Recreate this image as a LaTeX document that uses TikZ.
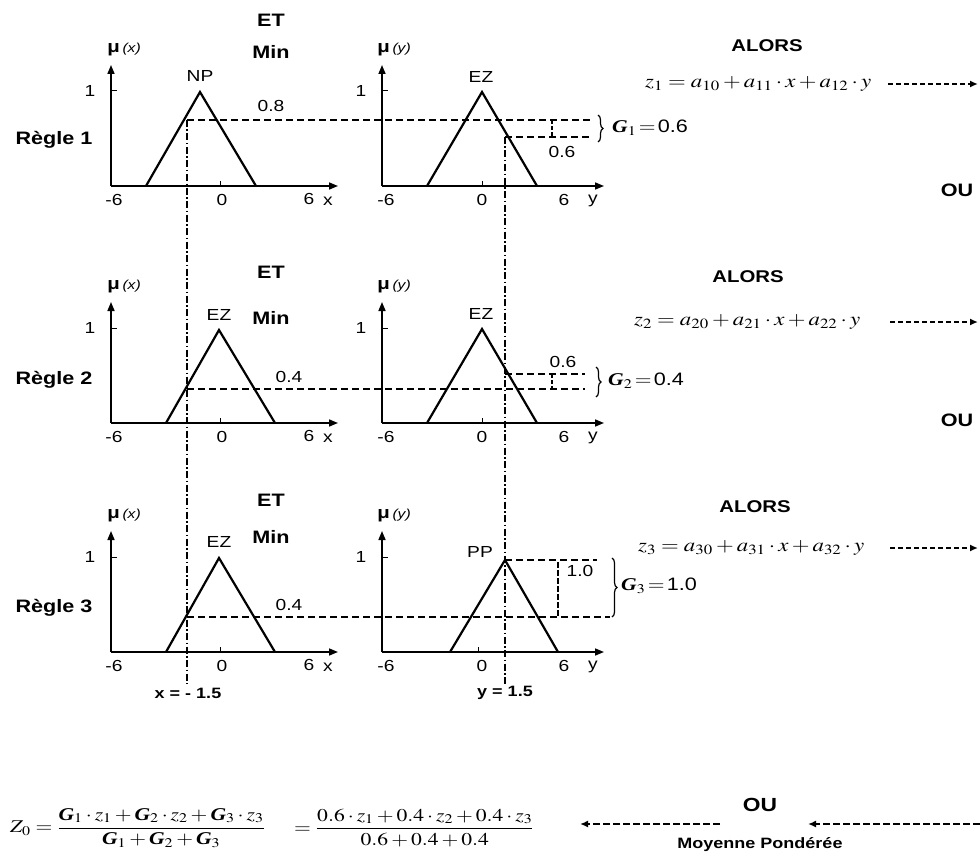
\documentclass[tikz,border=0pt]{standalone}
\usepackage{graphicx}
\usepackage{mathptmx}
\usepackage{fontspec}
\setmainfont{Liberation Sans}
\newfontfamily\wsans[FakeStretch=1.2]{Liberation Sans}
\newfontfamily\tnr{Liberation Serif}
\usetikzlibrary{arrows.meta,decorations.pathreplacing}
\newcommand\GG[1]{\mbox{\tnr\bfseries\itshape G}_{#1}}
\newcommand\wideeq[1]{\scalebox{1.2}[1]{#1}}
\tikzset{
  axisline/.style={line width=1.6pt,-{Triangle[length=9pt,width=7pt]}},
  tickline/.style={line width=1pt},
  tri/.style={line width=2.2pt,line join=miter},
  hdash/.style={line width=2pt,dash pattern=on 7pt off 4pt},
  vdash/.style={line width=1.4pt,dash pattern=on 7pt off 2.5pt on 1.5pt off 2.5pt},
  lbl/.style={font=\wsans\fontsize{16}{16}\selectfont,inner sep=0pt},
  blbl/.style={font=\wsans\fontsize{17}{17}\selectfont\bfseries,inner sep=0pt},
  rlbl/.style={font=\wsans\fontsize{18}{18}\selectfont\bfseries,inner sep=0pt},
  biglbl/.style={font=\wsans\fontsize{18}{18}\selectfont\bfseries,inner sep=0pt},
  eqlbl/.style={font=\fontsize{19}{19}\selectfont,inner sep=0pt},
  glbl/.style={font=\fontsize{18}{18}\selectfont,inner sep=0pt},
  zarrow/.style={line width=2pt,dash pattern=on 5pt off 3pt,-{Latex[length=8pt,width=7pt]}},
  bracestyle/.style={decorate,decoration={brace,amplitude=5pt},line width=1.2pt},
}
\begin{document}
\begin{tikzpicture}[x=1pt,y=-1pt]
\fill[white] (0,0) rectangle (980,856);
\useasboundingbox (0,0) rectangle (980,856);

% ---------- axes for the three rules ----------
\foreach \b/\r/\zt in {186/1/482,423/2/482,652/3/478} {
  % x plot
  \coordinate (ox\r) at (111,\b);
  \draw[axisline] (ox\r) -- (111,\b-121);
  \draw[axisline] (ox\r) -- (338,\b);
  \draw[tickline] (111,\b-95) -- (117,\b-95);
  \draw[tickline] (220,\b) -- (220,\b-5);
  \node[lbl] (onex\r) at (90,\b-95) {1};
  \node[lbl] (mx\r) at (114,\b+14) {-6};
  \node[lbl] (zx\r) at (222,\b+14) {0};
  \node[lbl] (px\r) at (309,\b+13) {6};
  \node[lbl] (vx\r) at (328,\b+15) {x};
  \node[inner sep=0pt] (mux\r) at (124,\b-136) {{\wsans\fontsize{17}{17}\selectfont\bfseries μ} {\wsans\fontsize{13}{13}\selectfont\itshape(x)}};
  % y plot
  \coordinate (oy\r) at (382,\b);
  \draw[axisline] (oy\r) -- (382,\b-121);
  \draw[axisline] (oy\r) -- (604,\b);
  \draw[tickline] (382,\b-95) -- (388,\b-95);
  \draw[tickline] (\zt,\b) -- (\zt,\b-5);
  \node[lbl] (oney\r) at (361,\b-95) {1};
  \node[lbl] (my\r) at (386,\b+14) {-6};
  \node[lbl] (zy\r) at (482,\b+14) {0};
  \node[lbl] (py\r) at (564,\b+14) {6};
  \node[lbl] (vy\r) at (593,\b+15) {y};
  \node[inner sep=0pt] (muy\r) at (394,\b-136) {{\wsans\fontsize{17}{17}\selectfont\bfseries μ} {\wsans\fontsize{13}{13}\selectfont\itshape(y)}};
}

% ---------- Rule 1 ----------
\node[rlbl] (r1) at (54,140) {Règle 1};
\node[biglbl] (et1) at (271,20) {ET};
\node[biglbl] (min1) at (271,52) {Min};
\draw[tri] (146,186) -- (200,92) -- (256,186);
\node[lbl] (np1) at (200,76) {NP};
\draw[tri] (427,186) -- (482,92) -- (537,186);
\node[lbl] (ez1) at (481,77) {EZ};
\coordinate (a1) at (187,120);
\coordinate (a1e) at (592,120);
\coordinate (b1) at (505,137);
\coordinate (b1e) at (592,137);
\draw[hdash] (a1) -- (a1e);
\draw[hdash] (b1) -- (b1e);
\draw[line width=2pt,dash pattern=on 4pt off 2pt] (552,120) -- (552,137);
\node[lbl] (l08) at (271,106) {0.8};
\node[lbl] (l061) at (562,152) {0.6};
\draw[bracestyle] (598,115) -- (598,142);
\node[anchor=west,glbl] (g1) at (612,128) {\wideeq{$\GG1\!=\!\mbox{0.6}$}};

% ---------- Rule 2 ----------
\node[rlbl] (r2) at (54,380) {Règle 2};
\node[biglbl] (et2) at (271,272) {ET};
\node[biglbl] (min2) at (271,318) {Min};
\draw[tri] (166,423) -- (219,330) -- (275,423);
\node[lbl] (ez2a) at (219,315) {EZ};
\draw[tri] (427,423) -- (482,329) -- (537,423);
\node[lbl] (ez2b) at (481,314) {EZ};
\coordinate (a2) at (187,389);
\coordinate (a2e) at (585,389);
\coordinate (b2) at (505,374);
\coordinate (b2e) at (585,374);
\draw[hdash] (a2) -- (a2e);
\draw[hdash] (b2) -- (b2e);
\draw[line width=2pt,dash pattern=on 4pt off 2pt] (552,374) -- (552,389);
\node[lbl] (l042) at (289,377) {0.4};
\node[lbl] (l062) at (563,362) {0.6};
\draw[bracestyle] (596,367) -- (596,397);
\node[anchor=west,glbl] (g2) at (608,381) {\wideeq{$\GG2\!=\!\mbox{0.4}$}};

% ---------- Rule 3 ----------
\node[rlbl] (r3) at (54,608) {Règle 3};
\node[biglbl] (et3) at (271,500) {ET};
\node[biglbl] (min3) at (271,537) {Min};
\draw[tri] (166,652) -- (219,558) -- (275,652);
\node[lbl] (ez3) at (219,542) {EZ};
\draw[tri] (450,652) -- (505,560) -- (558,652);
\node[lbl] (pp3) at (480,552) {PP};
\coordinate (a3) at (187,617);
\coordinate (a3e) at (610,617);
\coordinate (b3) at (505,560);
\coordinate (b3e) at (597,560);
\draw[hdash] (a3) -- (a3e);
\draw[hdash] (b3) -- (b3e);
\draw[line width=2.4pt,dash pattern=on 6pt off 2pt] (558,562) -- (558,617);
\node[lbl] (l043) at (289,605) {0.4};
\node[lbl] (l10) at (580,571) {1.0};
\draw[bracestyle] (612,558) -- (612,617);
\node[anchor=west,glbl] (g3) at (621,586) {\wideeq{$\GG3\!=\!\mbox{1.0}$}};

% ---------- vertical input lines ----------
\coordinate (xin) at (187,684);
\coordinate (yin) at (505,684);
\draw[vdash] (a1) -- (xin);
\draw[vdash] (b1) -- (yin);
\node[blbl,font=\wsans\fontsize{15}{15}\selectfont\bfseries] (xval) at (188,693) {x = - 1.5};
\node[blbl,font=\wsans\fontsize{15}{15}\selectfont\bfseries] (yval) at (505,693) {y = 1.5};

% ---------- consequents ----------
\node[blbl] (alors1) at (767,46) {ALORS};
\node[eqlbl,anchor=west] (z1) at (645,84) {\wideeq{$z_1 = a_{10} + a_{11}\cdot x + a_{12}\cdot y$}};
\coordinate (z1e) at (978,84);
\draw[zarrow] (888,84) -- (z1e);
\node[biglbl] (ou1) at (957,190) {OU};

\node[blbl] (alors2) at (748,277) {ALORS};
\node[eqlbl,anchor=west] (z2) at (634,322) {\wideeq{$z_2 = a_{20} + a_{21}\cdot x + a_{22}\cdot y$}};
\coordinate (z2e) at (978,322);
\draw[zarrow] (890,322) -- (z2e);
\node[biglbl] (ou2) at (957,420) {OU};

\node[blbl] (alors3) at (755,507) {ALORS};
\node[eqlbl,anchor=west] (z3) at (638,548) {\wideeq{$z_3 = a_{30} + a_{31}\cdot x + a_{32}\cdot y$}};
\coordinate (z3e) at (978,548);
\draw[zarrow] (890,548) -- (z3e);

% ---------- aggregation ----------
\node[glbl,anchor=west] (zf) at (10,828) {\wideeq{$Z_0 = \displaystyle\frac{\GG1\cdot z_1 + \GG2\cdot z_2 + \GG3\cdot z_3}{\GG1 + \GG2 + \GG3}$}};
\node[glbl,anchor=west] (zn) at (294,828) {\wideeq{$= \displaystyle\frac{0.6\cdot z_1 + 0.4\cdot z_2 + 0.4\cdot z_3}{0.6+0.4+0.4}$}};
\node[biglbl,font=\wsans\fontsize{19}{19}\selectfont\bfseries] (ou3) at (760,805) {OU};
\node[blbl,font=\wsans\fontsize{15}{15}\selectfont\bfseries] (moy) at (760,845) {Moyenne Pondérée};
\coordinate (ls) at (720,824);
\coordinate (lt) at (580,824);
\coordinate (rs) at (980,824);
\coordinate (rt) at (808,824);
\draw[zarrow,dash pattern=on 7pt off 3pt] (ls) -- (lt);
\draw[zarrow,dash pattern=on 7pt off 3pt] (rs) -- (rt);
\end{tikzpicture}
\end{document}
